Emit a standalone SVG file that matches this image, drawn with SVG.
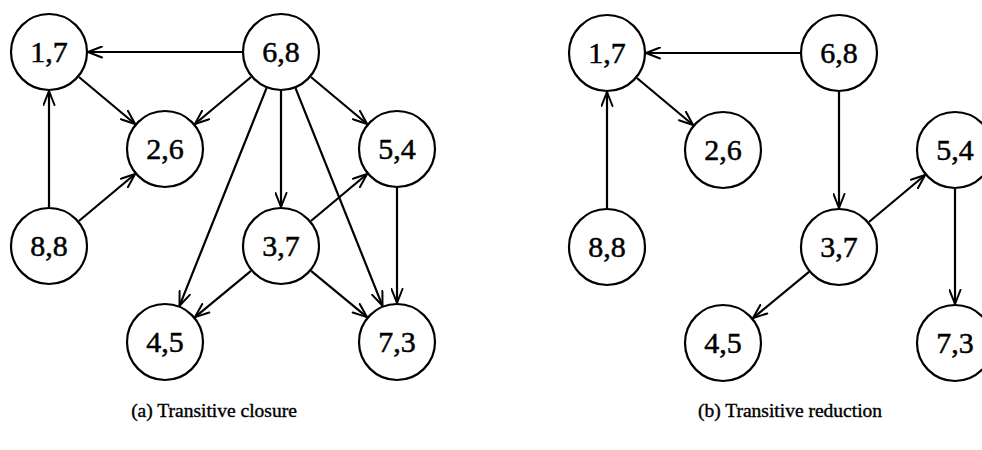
<svg xmlns="http://www.w3.org/2000/svg" width="982" height="450" viewBox="0 0 982 450">
  <style>
    .node circle { fill: #fff; stroke: #000; stroke-width: 2.2; }
    .node text { font-family: "Liberation Serif", "Times New Roman", serif; font-size: 30px; text-anchor: middle; fill: #000; stroke: #000; stroke-width: 0.5; }
    .edges line { stroke: #000; stroke-width: 2.2; marker-end: url(#ah); }
    .caption { font-family: "Liberation Serif", "Times New Roman", serif; font-size: 19.5px; text-anchor: middle; fill: #000; stroke: #000; stroke-width: 0.4; }
  </style>
  <defs>
    <marker id="ah" viewBox="0 0 16 13" refX="15" refY="6.5" markerWidth="16" markerHeight="13" orient="auto" markerUnits="userSpaceOnUse">
      <path d="M1,1 L15,6.5 L1,12" fill="none" stroke="#000" stroke-width="2" stroke-linejoin="round" stroke-linecap="round"/>
    </marker>
  </defs>
  <rect width="982" height="450" fill="#fff"/>

  <!-- (a) transitive closure -->
  <g id="closure">
    <g id="a-edges" class="edges">
      <line x1="242" y1="52" x2="88" y2="52"/>
      <line x1="78.9" y1="77" x2="135.1" y2="124"/>
      <line x1="251.1" y1="77" x2="194.9" y2="124"/>
      <line x1="49" y1="207" x2="49" y2="91"/>
      <line x1="78.9" y1="221" x2="135.1" y2="174"/>
      <line x1="310.9" y1="77" x2="367.1" y2="124"/>
      <line x1="281" y1="91" x2="281" y2="207"/>
      <line x1="266.5" y1="88.2" x2="179.5" y2="305.8"/>
      <line x1="295.5" y1="88.2" x2="382.5" y2="305.8"/>
      <line x1="310.9" y1="221" x2="367.1" y2="174"/>
      <line x1="251" y1="270.9" x2="195" y2="317.1"/>
      <line x1="311" y1="270.9" x2="367" y2="317.1"/>
      <line x1="397" y1="188" x2="397" y2="303"/>
    </g>
    <g id="a-n17" class="node"><circle cx="49" cy="52" r="38"/><text x="49" y="62">1,7</text></g>
    <g id="a-n68" class="node"><circle cx="281" cy="52" r="38"/><text x="281" y="62">6,8</text></g>
    <g id="a-n26" class="node"><circle cx="165" cy="149" r="38"/><text x="165" y="159">2,6</text></g>
    <g id="a-n54" class="node"><circle cx="397" cy="149" r="38"/><text x="397" y="159">5,4</text></g>
    <g id="a-n88" class="node"><circle cx="49" cy="246" r="38"/><text x="49" y="256">8,8</text></g>
    <g id="a-n37" class="node"><circle cx="281" cy="246" r="38"/><text x="281" y="256">3,7</text></g>
    <g id="a-n45" class="node"><circle cx="165" cy="342" r="38"/><text x="165" y="352">4,5</text></g>
    <g id="a-n73" class="node"><circle cx="397" cy="342" r="38"/><text x="397" y="352">7,3</text></g>
    <text class="caption" x="214" y="417">(a) Transitive closure</text>
  </g>

  <!-- (b) transitive reduction -->
  <g id="reduction" transform="translate(558,1)">
    <g id="b-edges" class="edges">
      <line x1="242" y1="52" x2="88" y2="52"/>
      <line x1="78.9" y1="77" x2="135.1" y2="124"/>
      <line x1="49" y1="207" x2="49" y2="91"/>
      <line x1="281" y1="91" x2="281" y2="207"/>
      <line x1="310.9" y1="221" x2="367.1" y2="174"/>
      <line x1="251" y1="270.9" x2="195" y2="317.1"/>
      <line x1="397" y1="188" x2="397" y2="303"/>
    </g>
    <g id="b-n17" class="node"><circle cx="49" cy="52" r="38"/><text x="49" y="62">1,7</text></g>
    <g id="b-n68" class="node"><circle cx="281" cy="52" r="38"/><text x="281" y="62">6,8</text></g>
    <g id="b-n26" class="node"><circle cx="165" cy="149" r="38"/><text x="165" y="159">2,6</text></g>
    <g id="b-n54" class="node"><circle cx="397" cy="149" r="38"/><text x="397" y="159">5,4</text></g>
    <g id="b-n88" class="node"><circle cx="49" cy="246" r="38"/><text x="49" y="256">8,8</text></g>
    <g id="b-n37" class="node"><circle cx="281" cy="246" r="38"/><text x="281" y="256">3,7</text></g>
    <g id="b-n45" class="node"><circle cx="165" cy="342" r="38"/><text x="165" y="352">4,5</text></g>
    <g id="b-n73" class="node"><circle cx="397" cy="342" r="38"/><text x="397" y="352">7,3</text></g>
    <text class="caption" x="232" y="416">(b) Transitive reduction</text>
  </g>
</svg>
